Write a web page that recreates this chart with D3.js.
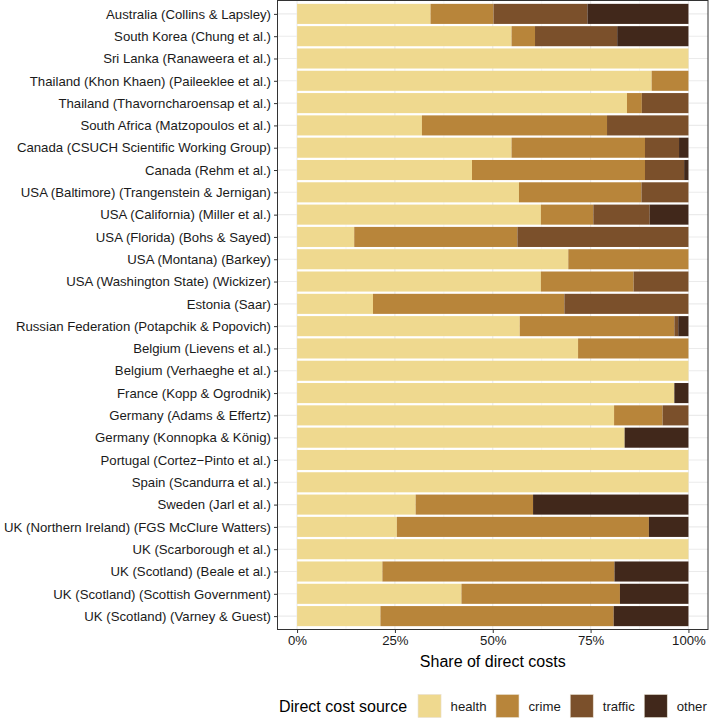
<!DOCTYPE html>
<html>
<head>
<meta charset="utf-8">
<script src="https://cdn.jsdelivr.net/npm/d3@7"></script>
<style>
  html, body { margin: 0; padding: 0; background: #fff; }
  svg { display: block; font-family: "Liberation Sans", Arial, Helvetica, sans-serif; }
</style>
</head>
<body>
<svg id="chart" width="709" height="719"></svg>
<script>
const categories = [
  "Australia (Collins & Lapsley)",
  "South Korea (Chung et al.)",
  "Sri Lanka (Ranaweera et al.)",
  "Thailand (Khon Khaen) (Paileeklee et al.)",
  "Thailand (Thavorncharoensap et al.)",
  "South Africa (Matzopoulos et al.)",
  "Canada (CSUCH Scientific Working Group)",
  "Canada (Rehm et al.)",
  "USA (Baltimore) (Trangenstein & Jernigan)",
  "USA (California) (Miller et al.)",
  "USA (Florida) (Bohs & Sayed)",
  "USA (Montana) (Barkey)",
  "USA (Washington State) (Wickizer)",
  "Estonia (Saar)",
  "Russian Federation (Potapchik & Popovich)",
  "Belgium (Lievens et al.)",
  "Belgium (Verhaeghe et al.)",
  "France (Kopp & Ogrodnik)",
  "Germany (Adams & Effertz)",
  "Germany (Konnopka & König)",
  "Portugal (Cortez\u2212Pinto et al.)",
  "Spain (Scandurra et al.)",
  "Sweden (Jarl et al.)",
  "UK (Northern Ireland) (FGS McClure Watters)",
  "UK (Scarborough et al.)",
  "UK (Scotland) (Beale et al.)",
  "UK (Scotland) (Scottish Government)",
  "UK (Scotland) (Varney & Guest)"
];
const sources = ["health", "crime", "traffic", "other"];
// shares in percent, per category
const health  = [34.1, 54.8, 100, 90.6, 84.3, 31.9, 54.8, 44.7, 56.7, 62.3, 14.6, 69.3, 62.3, 19.4, 56.9, 71.8, 100, 96.4, 81.0, 83.7, 100, 100, 30.3, 25.5, 100, 21.8, 42.0, 21.3];
const crime   = [16.1,  6.0,   0,  9.4,  3.8, 47.3, 34.1, 44.2, 31.3, 13.4, 41.7, 30.7, 23.7, 48.9, 39.5, 28.2,   0,    0, 12.4,    0,   0,   0, 30.0, 64.4,   0, 59.3, 40.5, 59.6];
const traffic = [24.0, 21.0,   0,    0, 11.9, 20.8,  8.7, 10.0, 12.0, 14.4, 43.7,    0, 14.0, 31.7,  1.0,    0,   0,    0,  6.6,    0,   0,   0,    0,    0,   0,    0,    0,    0];
const other   = [25.8, 18.2,   0,    0,    0,    0,  2.4,  1.1,    0,  9.9,    0,    0,    0,    0,  2.6,    0,   0,  3.6,    0, 16.3,   0,   0, 39.7, 10.1,   0, 18.9, 17.5, 19.1];
const xTicks = [0, 25, 50, 75, 100];
const xTickLabels = ["0%", "25%", "50%", "75%", "100%"];
const colors = ["#EFD98F", "#B8853A", "#7B502B", "#41281B"];

const rows = categories.map((c, i) => ({
  cat: c, health: health[i], crime: crime[i], traffic: traffic[i], other: other[i]
}));

const svg = d3.select("#chart");
const panel = { left: 277.5, right: 708, top: 0.5, bottom: 629.5 };

const x = d3.scaleLinear().domain([-5, 105]).range([panel.left, panel.right]);
const yOuter = d3.scalePoint().domain(categories).range([panel.top, panel.bottom]).padding(0.6);
const step = yOuter.step();
const barH = step * 0.9;

// panel background
svg.append("rect").attr("x", panel.left).attr("y", panel.top)
  .attr("width", panel.right - panel.left).attr("height", panel.bottom - panel.top)
  .attr("fill", "#fff");

// minor grid
const g = svg.append("g");
[12.5, 37.5, 62.5, 87.5].forEach(v => {
  g.append("line").attr("x1", x(v)).attr("x2", x(v)).attr("y1", panel.top).attr("y2", panel.bottom)
    .attr("stroke", "#F2F2F2").attr("stroke-width", 0.6);
});
xTicks.forEach(v => {
  g.append("line").attr("x1", x(v)).attr("x2", x(v)).attr("y1", panel.top).attr("y2", panel.bottom)
    .attr("stroke", "#EBEBEB").attr("stroke-width", 1.1);
});
categories.forEach(c => {
  g.append("line").attr("x1", panel.left).attr("x2", panel.right).attr("y1", yOuter(c)).attr("y2", yOuter(c))
    .attr("stroke", "#EBEBEB").attr("stroke-width", 1.1);
});

// stacked bars
const stack = d3.stack().keys(sources)(rows);
const color = d3.scaleOrdinal().domain(sources).range(colors);
svg.append("g").selectAll("g").data(stack).join("g")
  .attr("fill", d => color(d.key))
  .selectAll("rect").data(d => d.filter(p => p[1] - p[0] > 0)).join("rect")
  .attr("x", d => x(d[0]))
  .attr("width", d => x(d[1]) - x(d[0]))
  .attr("y", d => yOuter(d.data.cat) - barH / 2)
  .attr("height", barH);

// panel border
svg.append("rect").attr("x", panel.left).attr("y", panel.top)
  .attr("width", panel.right - panel.left).attr("height", panel.bottom - panel.top)
  .attr("fill", "none").attr("stroke", "#333333").attr("stroke-width", 1);

// y axis
const yAxis = svg.append("g").attr("transform", `translate(${panel.left},0)`)
  .call(d3.axisLeft(yOuter).tickSize(3.5).tickPadding(3));
yAxis.select(".domain").remove();
yAxis.selectAll(".tick line").attr("stroke", "#333333").attr("stroke-width", 1);
yAxis.selectAll(".tick text").attr("fill", "#1a1a1a").style("font-size", "13.2px")
  .style("font-family", "'Liberation Sans', Arial, sans-serif");

// x axis
const xAxis = svg.append("g").attr("transform", `translate(0,${panel.bottom})`)
  .call(d3.axisBottom(x).tickValues(xTicks).tickFormat((d, i) => xTickLabels[i]).tickSize(3.5).tickPadding(3));
xAxis.select(".domain").remove();
xAxis.selectAll(".tick line").attr("stroke", "#333333").attr("stroke-width", 1);
xAxis.selectAll(".tick text").attr("fill", "#1a1a1a").style("font-size", "13.2px")
  .style("font-family", "'Liberation Sans', Arial, sans-serif");

// x title
svg.append("text").attr("x", (x(0) + x(100)) / 2).attr("y", 667)
  .attr("text-anchor", "middle").attr("fill", "#000").style("font-size", "16px")
  .text("Share of direct costs");

// legend
const leg = svg.append("g");
const title = leg.append("text").attr("x", 279).attr("y", 711.5)
  .attr("fill", "#000").style("font-size", "16px").text("Direct cost source");
let cx = 279 + title.node().getComputedTextLength() + 11;
sources.forEach((s, i) => {
  leg.append("rect").attr("x", cx).attr("y", 694.5).attr("width", 23).attr("height", 23)
    .attr("fill", color(s)).attr("stroke", "#e8e0d0").attr("stroke-width", 0.6);
  const t = leg.append("text").attr("x", cx + 23 + 9.5).attr("y", 710.5)
    .attr("fill", "#1a1a1a").style("font-size", "13.2px").text(s);
  cx = cx + 23 + 9.5 + t.node().getComputedTextLength() + 9.5;
});
</script>
</body>
</html>
